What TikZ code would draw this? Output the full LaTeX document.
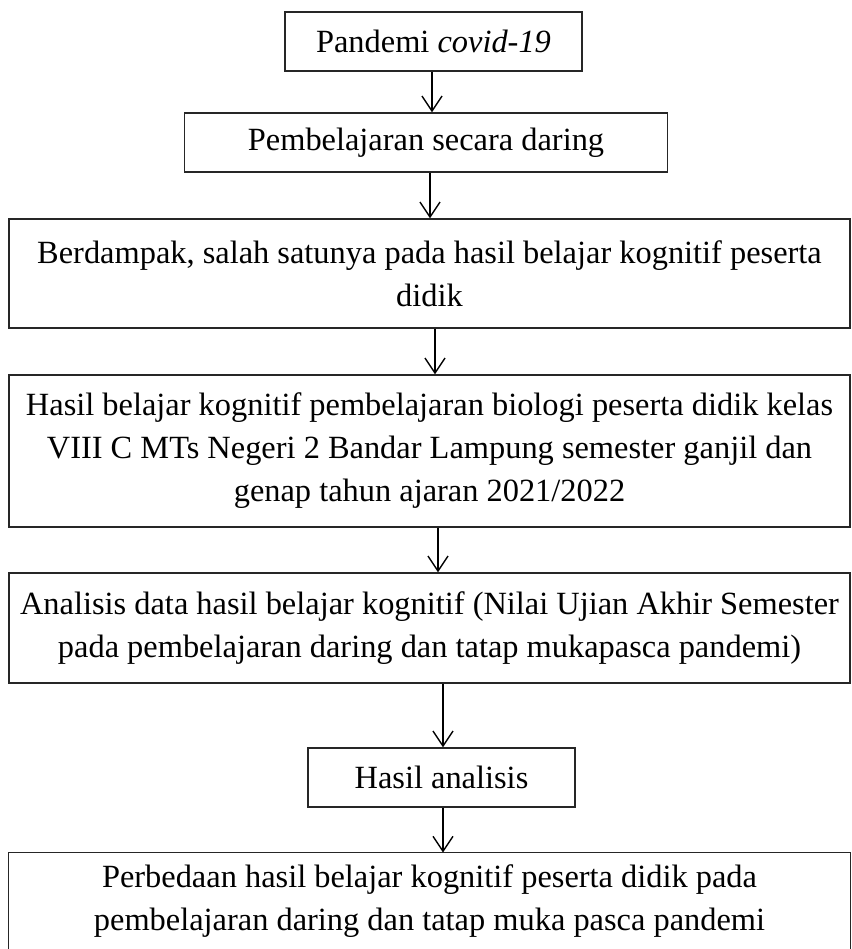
\documentclass[tikz,border=0pt]{standalone}
\usepackage{fontspec}
\setmainfont{Liberation Serif}
\usetikzlibrary{arrows.meta,calc}
\begin{document}
\begin{tikzpicture}[x=0.5pt,y=-0.5pt,
  box/.style={draw=black!85, line width=0.7pt, align=center, inner sep=0pt,
    font=\fontsize{16.2pt}{21.5pt}\selectfont},
  openbox/.style={align=center, inner sep=0pt,
    font=\fontsize{16.2pt}{21.5pt}\selectfont},
  arr/.style={line width=0.7pt, -{Straight Barb[length=7.5pt,width=10pt,line width=0.7pt]}}]
\useasboundingbox (0,0) rectangle (852,949);
\node[box, minimum width=148.5pt, minimum height=29.5pt] (b1) at (433.5,41.5) {Pandemi \textit{covid-19}};
\node[box, minimum width=241.5pt, minimum height=29.5pt] (b2) at (426,142.5) {Pembelajaran secara daring};
\node[box, minimum width=420.5pt, minimum height=54.5pt] (b3) at (429.5,273.5) {Berdampak, salah satunya pada hasil belajar kognitif peserta\\ didik};
\node[box, minimum width=420.5pt, minimum height=76pt] (b4) at (429.5,451) {Hasil belajar kognitif pembelajaran biologi peserta didik kelas\\ VIII C MTs Negeri 2 Bandar Lampung semester ganjil dan\\ genap tahun ajaran 2021/2022};
\node[box, minimum width=420.5pt, minimum height=55pt] (b5) at (429.5,628) {Analisis data hasil belajar kognitif (Nilai Ujian Akhir Semester\\ pada pembelajaran daring dan tatap mukapasca pandemi)};
\node[box, minimum width=133.5pt, minimum height=29.5pt] (b6) at (441.5,777.5) {Hasil analisis};
\node[openbox, minimum width=420.5pt, minimum height=48pt] (b7) at (429.5,901) {Perbedaan hasil belajar kognitif peserta didik pada\\ pembelajaran daring dan tatap muka pasca pandemi};
\draw[draw=black!85, line width=0.7pt] (b7.south west) -- (b7.north west) -- (b7.north east) -- (b7.south east);
\coordinate (a1) at (432,0);
\coordinate (a2) at (430,0);
\coordinate (a3) at (435,0);
\coordinate (a4) at (438,0);
\coordinate (a5) at (443,0);
\draw[arr] (b1.south -| a1) -- (b2.north -| a1);
\draw[arr] (b2.south -| a2) -- (b3.north -| a2);
\draw[arr] (b3.south -| a3) -- (b4.north -| a3);
\draw[arr] (b4.south -| a4) -- (b5.north -| a4);
\draw[arr] (b5.south -| a5) -- (b6.north -| a5);
\draw[arr] (b6.south -| a5) -- (b7.north -| a5);
\end{tikzpicture}
\end{document}
